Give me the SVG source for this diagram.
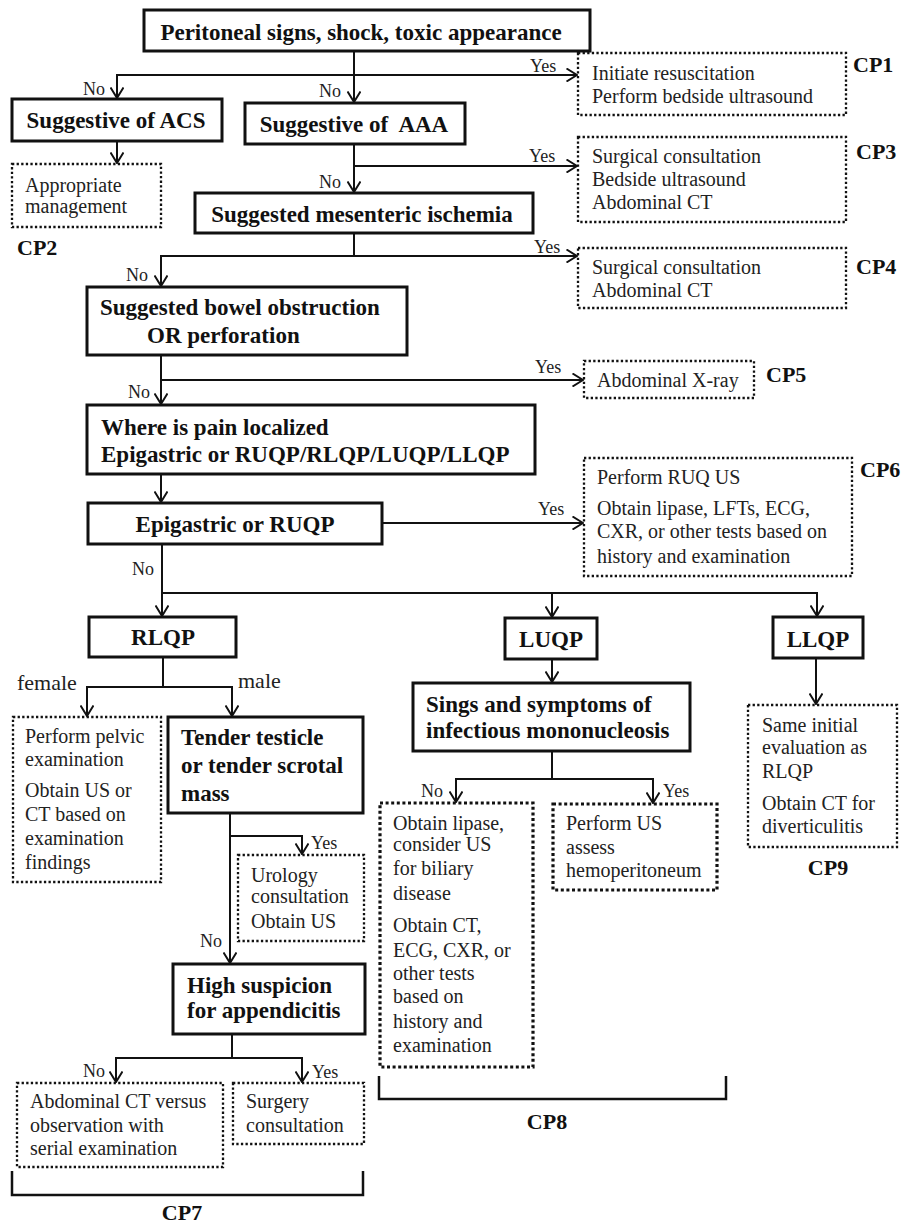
<svg xmlns="http://www.w3.org/2000/svg" width="903" height="1225" viewBox="0 0 903 1225">
<style>
.box{fill:#fff;stroke:#111;stroke-width:3}
.dot{fill:#fff;stroke:#111;stroke-width:2.3;stroke-dasharray:2.3 2.3}
.dotb{fill:#fff;stroke:#111;stroke-width:3.2;stroke-dasharray:3 2.6}
.b{font-family:"Liberation Serif","Times New Roman",serif;font-weight:bold;font-size:23px;fill:#111}
.t{font-family:"Liberation Serif","Times New Roman",serif;font-size:20px;fill:#222}
.l{font-family:"Liberation Serif","Times New Roman",serif;font-size:18px;fill:#222}
.g{font-family:"Liberation Serif","Times New Roman",serif;font-size:22px;fill:#222}
.cp{font-family:"Liberation Serif","Times New Roman",serif;font-weight:bold;font-size:22px;fill:#111}
.m{text-anchor:middle}
.c{fill:none;stroke:#111;stroke-width:2}
.br{fill:none;stroke:#111;stroke-width:2.5}
</style>
<defs>
<marker id="a" viewBox="0 0 12 14" refX="11" refY="7" markerWidth="12" markerHeight="14" markerUnits="userSpaceOnUse" orient="auto">
<path d="M0.5,0.5 L11,7 L0.5,13.5" fill="none" stroke="#111" stroke-width="2"/>
</marker>
</defs>

<g id="connectors">
<path class="c" d="M354,51 V102" marker-end="url(#a)"/>
<path class="c" d="M354,75 H117 V98" marker-end="url(#a)"/>
<path class="c" d="M354,75 H577" marker-end="url(#a)"/>
<path class="c" d="M117,141 V163" marker-end="url(#a)"/>
<path class="c" d="M354,144 V192" marker-end="url(#a)"/>
<path class="c" d="M354,166 H577" marker-end="url(#a)"/>
<path class="c" d="M354,233 V256 H161 V286" marker-end="url(#a)"/>
<path class="c" d="M354,256 H577" marker-end="url(#a)"/>
<path class="c" d="M161,355 V404" marker-end="url(#a)"/>
<path class="c" d="M161,380 H583" marker-end="url(#a)"/>
<path class="c" d="M161,474 V502" marker-end="url(#a)"/>
<path class="c" d="M382,523 H583" marker-end="url(#a)"/>
<path class="c" d="M162,544 V616" marker-end="url(#a)"/>
<path class="c" d="M162,593 H817 V616" marker-end="url(#a)"/>
<path class="c" d="M552,593 V617" marker-end="url(#a)"/>
<path class="c" d="M163,657 V687 H87 V716" marker-end="url(#a)"/>
<path class="c" d="M163,687 H232 V716" marker-end="url(#a)"/>
<path class="c" d="M230,813 V963" marker-end="url(#a)"/>
<path class="c" d="M230,836 H302 V854" marker-end="url(#a)"/>
<path class="c" d="M232,1034 V1058 H116 V1082" marker-end="url(#a)"/>
<path class="c" d="M232,1058 H302 V1082" marker-end="url(#a)"/>
<path class="c" d="M552,659 V682" marker-end="url(#a)"/>
<path class="c" d="M552,751 V779 H456 V802" marker-end="url(#a)"/>
<path class="c" d="M552,779 H653 V803" marker-end="url(#a)"/>
<path class="c" d="M816,658 V704" marker-end="url(#a)"/>
<path class="br" d="M12,1171 V1195 H363 V1171"/>
<path class="br" d="M379,1076 V1099 H726 V1076"/>
<text class="l" x="83" y="95">No</text>
<text class="l" x="319" y="97">No</text>
<text class="l" x="530" y="72">Yes</text>
<text class="l" x="319" y="188">No</text>
<text class="l" x="529" y="162">Yes</text>
<text class="l" x="534" y="253">Yes</text>
<text class="l" x="126" y="281">No</text>
<text class="l" x="535" y="373">Yes</text>
<text class="l" x="128" y="398">No</text>
<text class="l" x="538" y="515">Yes</text>
<text class="l" x="132" y="575">No</text>
<text class="g" x="17" y="690">female</text>
<text class="g" x="238" y="688">male</text>
<text class="l" x="311" y="849">Yes</text>
<text class="l" x="200" y="947">No</text>
<text class="l" x="83" y="1077">No</text>
<text class="l" x="312" y="1078">Yes</text>
<text class="l" x="421" y="797">No</text>
<text class="l" x="663" y="797">Yes</text>
</g>

<g id="n-top"><rect class="box" x="144" y="10" width="446" height="41"/><text class="b m" x="361" y="40">Peritoneal signs, shock, toxic appearance</text></g>
<g id="n-acs"><rect class="box" x="12" y="99" width="210" height="42"/><text class="b m" x="116" y="128">Suggestive of ACS</text></g>
<g id="n-aaa"><rect class="box" x="245" y="103" width="220" height="41"/><text class="b m" x="354" y="132">Suggestive of&#160; AAA</text></g>
<g id="n-mes"><rect class="box" x="195" y="193" width="338" height="40"/><text class="b m" x="362" y="222">Suggested mesenteric ischemia</text></g>
<g id="n-bowel"><rect class="box" x="87" y="287" width="320" height="68"/><text class="b" x="100" y="315">Suggested bowel obstruction</text><text class="b" x="147" y="343">OR perforation</text></g>
<g id="n-where"><rect class="box" x="87" y="405" width="448" height="69"/><text class="b" x="101" y="435">Where is pain localized</text><text class="b" x="101" y="462">Epigastric or RUQP/RLQP/LUQP/LLQP</text></g>
<g id="n-epi"><rect class="box" x="88" y="503" width="294" height="41"/><text class="b m" x="235" y="532">Epigastric or RUQP</text></g>
<g id="n-rlqp"><rect class="box" x="89" y="617" width="147" height="40"/><text class="b m" x="163" y="645">RLQP</text></g>
<g id="n-luqp"><rect class="box" x="505" y="618" width="92" height="41"/><text class="b m" x="551" y="647">LUQP</text></g>
<g id="n-llqp"><rect class="box" x="773" y="617" width="90" height="41"/><text class="b m" x="818" y="647">LLQP</text></g>
<g id="n-tender"><rect class="box" x="168" y="717" width="195" height="96"/><text class="b" x="181" y="745">Tender testicle</text><text class="b" x="181" y="773">or tender scrotal</text><text class="b" x="181" y="801">mass</text></g>
<g id="n-high"><rect class="box" x="173" y="964" width="192" height="70"/><text class="b" x="187" y="993">High suspicion</text><text class="b" x="187" y="1018">for appendicitis</text></g>
<g id="n-sings"><rect class="box" x="413" y="683" width="277" height="68"/><text class="b" x="426" y="712">Sings and symptoms of</text><text class="b" x="426" y="738">infectious mononucleosis</text></g>

<g id="cp1"><rect class="dot" x="578" y="53" width="268" height="62"/><text class="t" x="592" y="80">Initiate resuscitation</text><text class="t" x="592" y="103">Perform bedside ultrasound</text><text class="cp" x="853" y="72">CP1</text></g>
<g id="cp3"><rect class="dot" x="578" y="137" width="268" height="85"/><text class="t" x="592" y="163">Surgical consultation</text><text class="t" x="592" y="186">Bedside ultrasound</text><text class="t" x="592" y="209">Abdominal CT</text><text class="cp" x="856" y="159">CP3</text></g>
<g id="cp4"><rect class="dot" x="578" y="248" width="268" height="60"/><text class="t" x="592" y="274">Surgical consultation</text><text class="t" x="592" y="297">Abdominal CT</text><text class="cp" x="856" y="274">CP4</text></g>
<g id="cp5"><rect class="dot" x="584" y="361" width="170" height="37"/><text class="t" x="597" y="387">Abdominal X-ray</text><text class="cp" x="766" y="382">CP5</text></g>
<g id="cp6"><rect class="dot" x="584" y="458" width="268" height="118"/><text class="t" x="597" y="484">Perform RUQ US</text><text class="t" x="597" y="515">Obtain lipase, LFTs, ECG,</text><text class="t" x="597" y="538">CXR, or other tests based on</text><text class="t" x="597" y="563">history and examination</text><text class="cp" x="860" y="477">CP6</text></g>
<g id="cp2"><rect class="dot" x="12" y="164" width="149" height="63"/><text class="t" x="25" y="192">Appropriate</text><text class="t" x="25" y="213">management</text><text class="cp" x="17" y="255">CP2</text></g>
<g id="cp7-female"><rect class="dot" x="13" y="717" width="148" height="165"/><text class="t" x="25" y="743">Perform pelvic</text><text class="t" x="25" y="766">examination</text><text class="t" x="25" y="797">Obtain US or</text><text class="t" x="25" y="821">CT based on</text><text class="t" x="25" y="845">examination</text><text class="t" x="25" y="869">findings</text></g>
<g id="cp7-urology"><rect class="dot" x="238" y="855" width="126" height="86"/><text class="t" x="251" y="882">Urology</text><text class="t" x="251" y="903">consultation</text><text class="t" x="251" y="928">Obtain US</text></g>
<g id="cp7-ct"><rect class="dot" x="17" y="1083" width="206" height="84"/><text class="t" x="30" y="1108">Abdominal CT versus</text><text class="t" x="30" y="1132">observation with</text><text class="t" x="30" y="1155">serial examination</text></g>
<g id="cp7-surgery"><rect class="dot" x="233" y="1083" width="131" height="61"/><text class="t" x="246" y="1108">Surgery</text><text class="t" x="246" y="1132">consultation</text></g>
<g id="cp7-label"><text class="cp m" x="182" y="1220">CP7</text></g>
<g id="cp8-no"><rect class="dotb" x="380" y="803" width="153" height="264"/><text class="t" x="393" y="830">Obtain lipase,</text><text class="t" x="393" y="851">consider US</text><text class="t" x="393" y="875">for biliary</text><text class="t" x="393" y="900">disease</text><text class="t" x="393" y="932">Obtain CT,</text><text class="t" x="393" y="957">ECG, CXR, or</text><text class="t" x="393" y="980">other tests</text><text class="t" x="393" y="1003">based on</text><text class="t" x="393" y="1028">history and</text><text class="t" x="393" y="1052">examination</text></g>
<g id="cp8-yes"><rect class="dotb" x="553" y="804" width="164" height="86"/><text class="t" x="566" y="830">Perform US</text><text class="t" x="566" y="854">assess</text><text class="t" x="566" y="877">hemoperitoneum</text></g>
<g id="cp8-label"><text class="cp m" x="547" y="1129">CP8</text></g>
<g id="cp9"><rect class="dot" x="748" y="705" width="149" height="142"/><text class="t" x="762" y="732">Same initial</text><text class="t" x="762" y="754">evaluation as</text><text class="t" x="762" y="778">RLQP</text><text class="t" x="762" y="810">Obtain CT for</text><text class="t" x="762" y="833">diverticulitis</text><text class="cp m" x="828" y="875">CP9</text></g>
</svg>
